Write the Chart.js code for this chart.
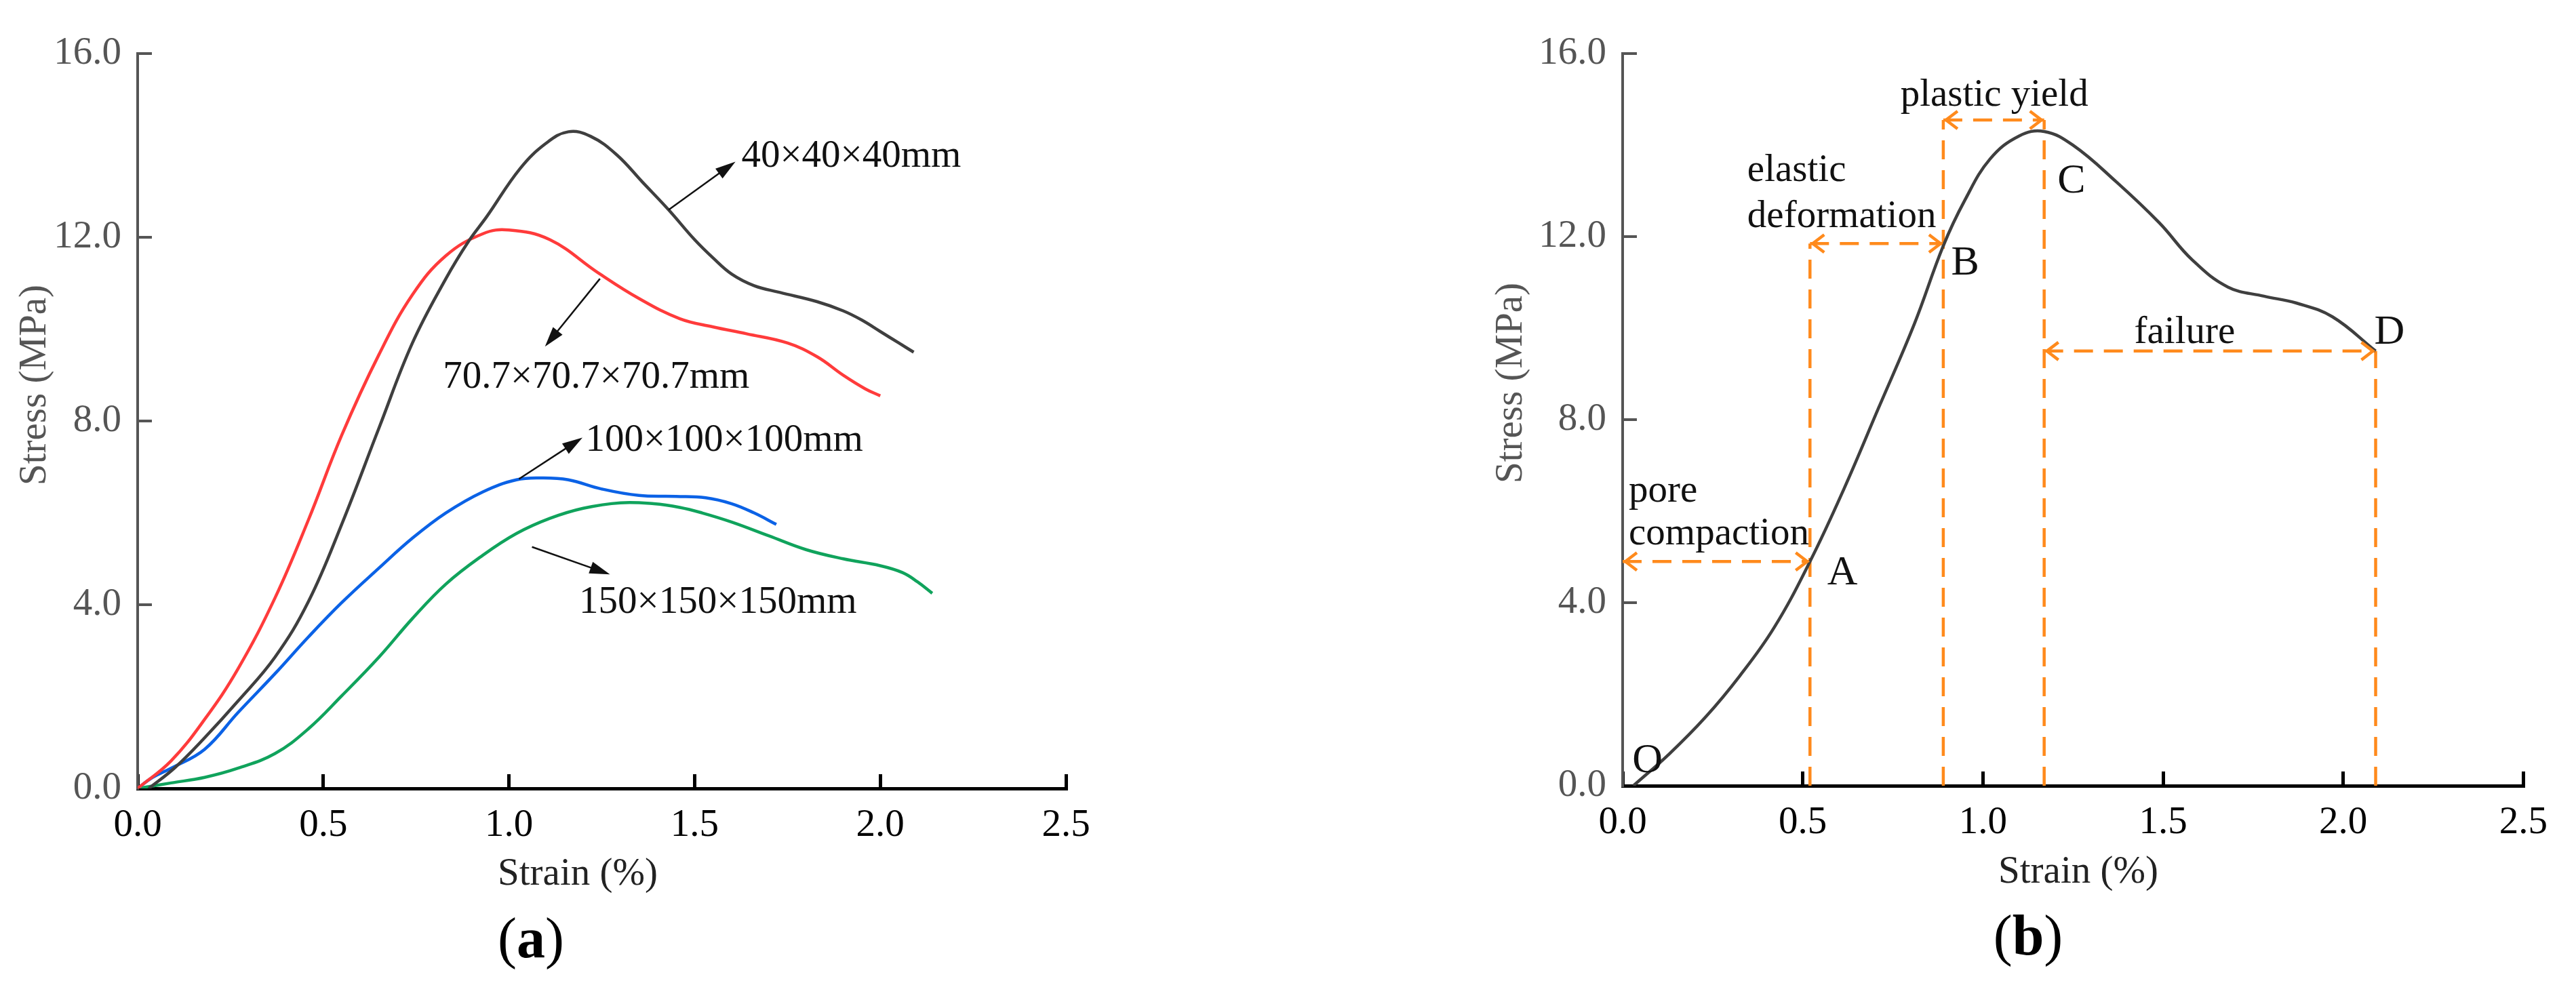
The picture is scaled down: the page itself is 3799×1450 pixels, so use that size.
<!DOCTYPE html>
<html>
<head>
<meta charset="utf-8">
<script src="https://cdn.jsdelivr.net/npm/chart.js@4.4.1/dist/chart.umd.min.js"></script>
<style>
  html, body { margin: 0; padding: 0; background: #fff; }
  body { width: 3799px; height: 1450px; position: relative; overflow: hidden; }
  canvas { position: absolute; top: 0; }
  #chartA { left: 0; }
  #chartB { left: 2150px; }
</style>
</head>
<body>
<canvas id="chartA" width="1650" height="1450"></canvas>
<canvas id="chartB" width="1649" height="1450"></canvas>
<script>
const SERIF = '"Liberation Serif", "Times New Roman", serif';

// axis ticks (both panels)
const xTicks = [0, 0.5, 1.0, 1.5, 2.0, 2.5];
const yTicks = [0, 4, 8, 12, 16];

// (a) stress-strain curves for four specimen sizes
const sizeLabels = ['40×40×40mm', '70.7×70.7×70.7mm', '100×100×100mm', '150×150×150mm'];
const strain40 = [0.03, 0.1, 0.18, 0.27, 0.37, 0.46, 0.55, 0.65, 0.74, 0.83, 0.89, 0.94, 1.03, 1.1, 1.16, 1.22, 1.29, 1.36, 1.43, 1.5, 1.55, 1.6, 1.66, 1.73, 1.83, 1.9, 1.95, 2.0, 2.05, 2.09];
const stress40 = [0, 0.45, 1.1, 1.9, 2.86, 4.07, 5.76, 7.85, 9.7, 11.1, 11.9, 12.45, 13.5, 14.05, 14.3, 14.2, 13.8, 13.2, 12.6, 11.95, 11.55, 11.2, 10.95, 10.8, 10.6, 10.4, 10.2, 9.95, 9.7, 9.5];
const strain707 = [0, 0.09, 0.18, 0.27, 0.37, 0.46, 0.55, 0.65, 0.74, 0.83, 0.93, 1.0, 1.11, 1.24, 1.35, 1.46, 1.55, 1.64, 1.75, 1.83, 1.9, 1.96, 2.0];
const stress707 = [0, 0.6, 1.5, 2.6, 4.15, 5.85, 7.7, 9.45, 10.75, 11.6, 12.08, 12.16, 11.95, 11.23, 10.67, 10.23, 10.05, 9.9, 9.7, 9.4, 9.0, 8.7, 8.55];
const strain100 = [0, 0.04, 0.09, 0.18, 0.27, 0.37, 0.46, 0.55, 0.65, 0.74, 0.83, 0.93, 1.02, 1.09, 1.16, 1.25, 1.35, 1.45, 1.53, 1.6, 1.66, 1.72];
const stress100 = [0, 0.24, 0.44, 0.85, 1.65, 2.5, 3.3, 4.05, 4.8, 5.45, 6.0, 6.46, 6.72, 6.76, 6.72, 6.52, 6.38, 6.36, 6.33, 6.2, 6.0, 5.75];
const strain150 = [0, 0.09, 0.18, 0.27, 0.37, 0.46, 0.55, 0.65, 0.74, 0.83, 0.93, 1.02, 1.11, 1.2, 1.3, 1.39, 1.46, 1.52, 1.6, 1.7, 1.8, 1.9, 2.0, 2.06, 2.1, 2.14];
const stress150 = [0, 0.12, 0.24, 0.44, 0.76, 1.3, 2.02, 2.86, 3.7, 4.45, 5.08, 5.55, 5.88, 6.1, 6.22, 6.2, 6.12, 6.0, 5.8, 5.5, 5.2, 5.0, 4.85, 4.7, 4.5, 4.25];

// (b) typical curve with stage points O, A, B, C, D
const strainB = [0.03, 0.13, 0.23, 0.325, 0.42, 0.52, 0.615, 0.71, 0.81, 0.89, 0.95, 1.02, 1.1, 1.17, 1.25, 1.37, 1.49, 1.58, 1.68, 1.78, 1.87, 1.97, 2.09];
const stressB = [0, 0.7, 1.5, 2.4, 3.45, 4.9, 6.5, 8.25, 10.1, 11.8, 12.8, 13.7, 14.2, 14.3, 14.0, 13.2, 12.3, 11.5, 10.9, 10.7, 10.55, 10.25, 9.5];
const stageStrain = [0.52, 0.89, 1.17, 2.09];     // A, B, C, D
const stageLevel = [4.9, 11.85, 14.55, 9.5];      // height of each stage arrow
const stageNames = ['pore compaction', 'elastic deformation', 'plastic yield', 'failure'];

const pts = (xs, ys) => xs.map((v, i) => ({ x: v, y: ys[i] }));

function curve(data, color) {
  return { data, borderColor: color, borderWidth: 4.5, pointRadius: 0, tension: 0.4, fill: false };
}
function guide(data) {
  return { data, borderColor: '#ff8a1c', borderWidth: 4.5, borderDash: [28, 16], pointRadius: 0, tension: 0, fill: false };
}

function scales(yWidth, xHeight) {
  return {
    x: {
      type: 'linear', min: 0, max: 2.5,
      afterBuildTicks: s => { s.ticks = xTicks.map(v => ({ value: v })); },
      ticks: { color: '#000', font: { family: SERIF, size: 57 }, padding: 42, maxRotation: 0, autoSkip: false, callback: v => v.toFixed(1) },
      grid: { drawOnChartArea: false, drawTicks: true, tickLength: -21, color: '#000', lineWidth: 5 },
      border: { color: '#000', width: 5 },
      afterFit: s => { s.height = xHeight; }
    },
    y: {
      type: 'linear', min: 0, max: 16,
      afterBuildTicks: s => { s.ticks = yTicks.map(v => ({ value: v })); },
      ticks: { color: '#555', font: { family: SERIF, size: 57 }, padding: 45, autoSkip: false, callback: v => v.toFixed(1) },
      grid: { drawOnChartArea: false, drawTicks: true, tickLength: -21, color: '#555', lineWidth: 4 },
      border: { color: '#555', width: 4 },
      afterFit: s => { s.width = yWidth; }
    }
  };
}

const overlay = {
  id: 'overlay',
  afterDatasetsDraw(chart, args, o) {
    const { ctx, scales: { x, y } } = chart;
    const X = v => x.getPixelForValue(v), Y = v => y.getPixelForValue(v);
    ctx.save();
    // black pointer arrows
    (o.pointers || []).forEach(p => {
      const x1 = X(p[0]), y1 = Y(p[1]), x2 = X(p[2]), y2 = Y(p[3]);
      const a = Math.atan2(y2 - y1, x2 - x1), c = Math.cos(a), s = Math.sin(a);
      ctx.strokeStyle = ctx.fillStyle = '#111';
      ctx.lineWidth = 2.5;
      ctx.beginPath(); ctx.moveTo(x1, y1); ctx.lineTo(x2 - 20 * c, y2 - 20 * s); ctx.stroke();
      ctx.beginPath();
      ctx.moveTo(x2, y2);
      ctx.lineTo(x2 - 30 * c + 9 * s, y2 - 30 * s - 9 * c);
      ctx.lineTo(x2 - 30 * c - 9 * s, y2 - 30 * s + 9 * c);
      ctx.closePath(); ctx.fill();
    });
    // open chevrons at both ends of the stage spans
    (o.spans || []).forEach(sp => {
      const xa = X(sp[0]) + 4, xb = X(sp[1]) - 4, yy = Y(sp[2]);
      ctx.strokeStyle = '#ff8a1c';
      ctx.lineWidth = 4.5;
      ctx.beginPath();
      ctx.moveTo(xa + 17, yy - 13); ctx.lineTo(xa, yy); ctx.lineTo(xa + 17, yy + 13);
      ctx.moveTo(xb - 17, yy - 13); ctx.lineTo(xb, yy); ctx.lineTo(xb - 17, yy + 13);
      ctx.stroke();
    });
    (o.notes || []).forEach(n => {
      ctx.font = (n.size || 57) + 'px ' + SERIF;
      ctx.fillStyle = '#111';
      ctx.textAlign = 'left';
      ctx.textBaseline = 'middle';
      ctx.fillText(n.text, X(n.x), Y(n.y));
    });
    ctx.restore();
  },
  afterDraw(chart, args, o) {
    const ctx = chart.ctx;
    ctx.save();
    ctx.font = '57px ' + SERIF;
    ctx.textAlign = 'center';
    ctx.textBaseline = 'middle';
    ctx.fillStyle = '#222';
    ctx.fillText('Strain (%)', o.xTitle[0], o.xTitle[1]);
    ctx.save();
    ctx.translate(o.yTitle[0], o.yTitle[1]);
    ctx.rotate(-Math.PI / 2);
    ctx.fillStyle = '#555';
    ctx.fillText('Stress (MPa)', 0, 0);
    ctx.restore();
    // caption "(a)" / "(b)" with bold letter
    const reg = '84px ' + SERIF, bold = 'bold 84px ' + SERIF;
    ctx.font = reg; const wp = ctx.measureText('(').width, wq = ctx.measureText(')').width;
    ctx.font = bold; const wl = ctx.measureText(o.caption).width;
    let cx = o.capPos[0] - (wp + wl + wq) / 2;
    ctx.textAlign = 'left';
    ctx.fillStyle = '#000';
    ctx.font = reg; ctx.fillText('(', cx, o.capPos[1]); cx += wp;
    ctx.font = bold; ctx.fillText(o.caption, cx, o.capPos[1]); cx += wl;
    ctx.font = reg; ctx.fillText(')', cx, o.capPos[1]);
    ctx.restore();
  }
};

const base = {
  responsive: false,
  animation: false,
  devicePixelRatio: 1,
  events: []
};

// ---- panel (a)
new Chart(document.getElementById('chartA'), {
  type: 'line',
  data: {
    datasets: [
      curve(pts(strain40, stress40), '#3f3f3f'),
      curve(pts(strain707, stress707), '#ff3b3b'),
      curve(pts(strain100, stress100), '#0b62e6'),
      curve(pts(strain150, stress150), '#10a35c')
    ]
  },
  options: Object.assign({}, base, {
    layout: { padding: { left: 0, top: 62, right: 78, bottom: 0 } },
    scales: scales(203, 287),
    plugins: {
      legend: { display: false },
      tooltip: { enabled: false },
      overlay: {
        caption: 'a', capPos: [783, 1390], xTitle: [852, 1290], yTitle: [52, 568],
        pointers: [
          [1.43, 12.6, 1.61, 13.65],
          [1.245, 11.1, 1.097, 9.62],
          [1.027, 6.74, 1.198, 7.64],
          [1.062, 5.26, 1.272, 4.66]
        ],
        notes: [
          { text: sizeLabels[0], x: 1.626, y: 13.76 },
          { text: sizeLabels[1], x: 0.822, y: 8.95 },
          { text: sizeLabels[2], x: 1.206, y: 7.57 },
          { text: sizeLabels[3], x: 1.189, y: 4.05 }
        ]
      }
    }
  }),
  plugins: [overlay]
});

// ---- panel (b)
const sA = stageStrain[0], sB = stageStrain[1], sC = stageStrain[2], sD = stageStrain[3];
const hA = stageLevel[0], hB = stageLevel[1], hC = stageLevel[2], hD = stageLevel[3];
new Chart(document.getElementById('chartB'), {
  type: 'line',
  data: {
    datasets: [
      curve(pts(strainB, stressB), '#3f3f3f'),
      guide([{ x: 0, y: hA }, { x: sA, y: hA }]),
      guide([{ x: sA, y: hB }, { x: sB, y: hB }]),
      guide([{ x: sB, y: hC }, { x: sC, y: hC }]),
      guide([{ x: sC, y: hD }, { x: sD, y: hD }]),
      guide([{ x: sA, y: 0 }, { x: sA, y: hB }]),
      guide([{ x: sB, y: 0 }, { x: sB, y: hC }]),
      guide([{ x: sC, y: 0 }, { x: sC, y: hC }]),
      guide([{ x: sD, y: 0 }, { x: sD, y: hD }])
    ]
  },
  options: Object.assign({}, base, {
    layout: { padding: { left: 0, top: 61, right: 47, bottom: 0 } },
    scales: scales(243, 291),
    plugins: {
      legend: { display: false },
      tooltip: { enabled: false },
      overlay: {
        caption: 'b', capPos: [841, 1386], xTitle: [915, 1287], yTitle: [79, 565],
        spans: [[0, sA, hA], [sA, sB, hB], [sB, sC, hC], [sC, sD, hD]],
        notes: [
          { text: stageNames[0].split(' ')[0], x: 0.017, y: 6.43 },
          { text: stageNames[0].split(' ')[1], x: 0.017, y: 5.49 },
          { text: stageNames[1].split(' ')[0], x: 0.346, y: 13.44 },
          { text: stageNames[1].split(' ')[1], x: 0.346, y: 12.43 },
          { text: stageNames[2], x: 0.771, y: 15.09 },
          { text: stageNames[3], x: 1.42, y: 9.9 },
          { text: 'O', x: 0.027, y: 0.54, size: 62 },
          { text: 'A', x: 0.568, y: 4.64, size: 62 },
          { text: 'B', x: 0.912, y: 11.42, size: 62 },
          { text: 'C', x: 1.207, y: 13.2, size: 62 },
          { text: 'D', x: 2.086, y: 9.9, size: 62 }
        ]
      }
    }
  }),
  plugins: [overlay]
});
</script>
</body>
</html>
